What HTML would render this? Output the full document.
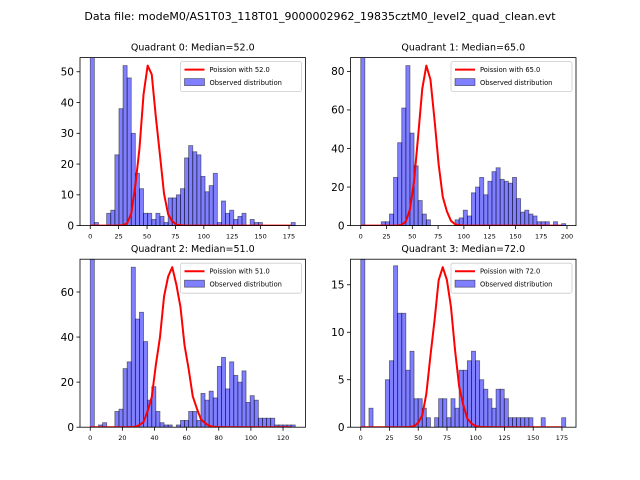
<!DOCTYPE html>
<html><head><meta charset="utf-8"><style>
html,body{margin:0;padding:0;background:#fff;}
svg{display:block;font-family:"DejaVu Sans","Liberation Sans",sans-serif;}
</style></head><body>
<svg id="fig" width="640" height="480" viewBox="0 0 640 480">
<text x="320" y="20" text-anchor="middle" font-size="11" fill="#000">Data file: modeM0/AS1T03_118T01_9000002962_19835cztM0_level2_quad_clean.evt</text>
</svg>
<script>
const quadTitles = ["Quadrant 0: Median=52.0","Quadrant 1: Median=65.0","Quadrant 2: Median=51.0","Quadrant 3: Median=72.0"];
const medians = [52.0, 65.0, 51.0, 72.0];
const dataMax = [180.5, 198.8, 127.6, 178.3];
const poissonPeak = [52.0, 83.0, 71.0, 16.85];
const q0Counts = [60,1,0,0,4,5,23,38,52,48,30,17,12,4,4,2,4,3,1,9,9,10,12,22,26,24,23,16,11,13,17,1,8,4,5,2,3,4,0,2,1,1,0,0,0,0,0,0,0,1];
const q1Counts = [95,0,0,0,0,2,2,6,25,43,61,83,48,31,13,6,3,0,0,0,0,0,0,3,4,8,5,17,20,25,16,23,28,30,24,23,22,25,14,7,8,6,5,2,2,2,0,2,0,1];
const q2Counts = [80,0,1,2,0,0,7,8,26,29,71,48,51,38,12,18,7,2,1,1,0,1,3,3,7,7,3,15,12,16,13,27,31,17,29,23,20,25,11,14,12,4,4,4,4,1,1,1,1,1];
const q3Counts = [20,0,2,0,0,0,5,7,17,12,12,6,8,3,3,2,1,0,1,3,3,1,3,2,6,6,7,8,7,5,4,3,2,4,4,3,1,1,1,1,1,1,0,0,1,0,0,0,0,1];
const xTicks = [[0,25,50,75,100,125,150,175],[0,25,50,75,100,125,150,175,200],[0,20,40,60,80,100,120],[0,25,50,75,100,125,150,175]];
const yTicks = [[0,10,20,30,40,50],[0,20,40,60,80],[0,20,40,60],[0,5,10,15]];
const allCounts = [q0Counts,q1Counts,q2Counts,q3Counts];

const NS = "http://www.w3.org/2000/svg";
const fig = document.getElementById('fig');
function mk(tag, attrs, parent){ const e=document.createElementNS(NS,tag); for(const k in attrs) e.setAttribute(k,attrs[k]); (parent||fig).appendChild(e); return e; }
function logPmf(k, lam){ let lf=0; for(let j=2;j<=k;j++) lf+=Math.log(j); return k*Math.log(lam)-lam-lf; }

const boxes = [[80,57.6],[350.5,57.6],[80,259.2],[350.5,259.2]];
const W=225.5, H=168;
for(let q=0;q<4;q++){
  const [L,T]=boxes[q];
  const M=dataMax[q], counts=allCounts[q], n=counts.length, bw=M/n;
  const lam=medians[q];
  const xs=[], ys=[];
  for(let i=0;i<n;i++){ const x=i*bw; xs.push(x); ys.push(Math.exp(logPmf(Math.round(x),lam))); }
  const mx=Math.max(...ys);
  const curve=ys.map(v=>v/mx*poissonPeak[q]);
  const yMax=1.05*Math.max(...curve);
  const xMin=-0.05*M, xMaxv=1.05*M;
  const sx=v=>L+(v-xMin)/(xMaxv-xMin)*W;
  const sy=v=>T+H-v/yMax*H;
  const g=mk('g',{});
  
  
  const clip=mk('clipPath',{id:'c'+q},g);
  mk('rect',{x:L,y:T,width:W,height:H},clip);
  const t=mk('text',{x:L+W/2,y:T-7,'text-anchor':'middle','font-size':'9.5',fill:'#000'},g);
  t.textContent=quadTitles[q];
  
  
  const bars=mk('g',{'clip-path':'url(#c'+q+')'},g);
  for(let i=0;i<n;i++){
    if(counts[i]<=0) continue;
    const r=mk('rect',{x:sx(i*bw),y:sy(counts[i]),width:sx(bw)-sx(0),height:sy(0)-sy(counts[i]),fill:'rgba(0,0,255,0.5)',stroke:'rgba(0,0,0,0.5)','stroke-width':'0.8'},bars);
    
    
  }
  const pl=mk('polyline',{points:xs.map((x,i)=>sx(x)+','+sy(curve[i])).join(' '),fill:'none',stroke:'#ff0000','stroke-width':'2','stroke-linejoin':'round'},bars);
  
  
  const fr=mk('rect',{x:L,y:T,width:W,height:H,fill:'none',stroke:'#000','stroke-width':'0.8'},g);
  
  
  xTicks[q].forEach(v=>{
    const x=sx(v);
    mk('line',{x1:x,y1:T+H,x2:x,y2:T+H+3.5,stroke:'#000','stroke-width':'0.8'},g);
    const tx=mk('text',{x:x,y:T+H+13,'text-anchor':'middle','font-size':'6.5',fill:'#000'},g);
    tx.textContent=v;
    
    
  });
  yTicks[q].forEach(v=>{
    const y=sy(v);
    mk('line',{x1:L-3.5,y1:y,x2:L,y2:y,stroke:'#000','stroke-width':'0.8'},g);
    const ty=mk('text',{x:L-6,y:y+3.8,'text-anchor':'end','font-size':'10.5',fill:'#000'},g);
    ty.textContent=v;
    
    
  });
  const lg=mk('g',{},g);
  
  
  const lx=L+W-125, ly=T+4;
  mk('rect',{x:lx,y:ly,width:121,height:30,fill:'#fff','fill-opacity':'0.8',stroke:'#ccc','stroke-width':'0.8',rx:'2'},lg);
  mk('line',{x1:lx+4,y1:ly+8,x2:lx+24,y2:ly+8,stroke:'#ff0000','stroke-width':'2'},lg);
  const l1=mk('text',{x:lx+29,y:ly+10.5,'font-size':'6.7',fill:'#000'},lg);
  l1.textContent='Poission with '+medians[q].toFixed(1);
  
  
  mk('rect',{x:lx+4,y:ly+17,width:20,height:7,fill:'rgba(0,0,255,0.5)',stroke:'rgba(0,0,0,0.5)','stroke-width':'0.8'},lg);
  const l2=mk('text',{x:lx+29,y:ly+23.5,'font-size':'6.7',fill:'#000'},lg);
  l2.textContent='Observed distribution';
  
  
}
</script>
</body></html>
